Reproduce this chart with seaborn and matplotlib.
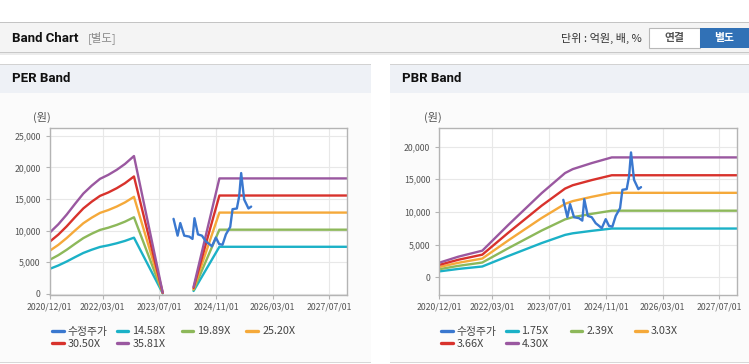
import pandas as pd
import seaborn as sns
import matplotlib.pyplot as plt
import matplotlib.dates as mdates
from matplotlib.lines import Line2D
from matplotlib.patches import Rectangle
from matplotlib.ticker import FuncFormatter

# values
price_dates = ['2023-10-31', '2023-12-05', '2023-12-28', '2024-01-31', '2024-03-14', '2024-04-11',
               '2024-04-28', '2024-05-28', '2024-07-01', '2024-08-04', '2024-09-02', '2024-09-25',
               '2024-10-29', '2024-11-26', '2024-12-25', '2025-01-23', '2025-03-01', '2025-03-21',
               '2025-04-27', '2025-05-17', '2025-06-03', '2025-06-29', '2025-08-05', '2025-08-28']
price_vals = [11860, 9200, 11200, 9200, 9050, 8680,
              11960, 9400, 9200, 8280, 7870, 7520,
              8900, 7870, 7760, 9400, 10580, 13390,
              13500, 15430, 19110, 14920, 13500, 13800]

per_multiples = [14.58, 19.89, 25.20, 30.50, 35.81]
per_dates = ['2020-12-01', '2021-02-13', '2021-04-26', '2021-07-06', '2021-09-16', '2021-11-27',
             '2022-02-06', '2022-04-19', '2022-06-30', '2022-09-09', '2022-11-25', '2023-07-30',
             '2024-04-20', '2024-11-28', '2027-12-01']
per_segment = [0] * 12 + [1] * 3
per_eps = [270, 307, 350, 397, 443, 478, 508, 526, 548, 574, 609, 5,
           30, 510, 510]

pbr_multiples = [1.75, 2.39, 3.03, 3.66, 4.30]
pbr_dates = ['2020-12-01', '2021-05-13', '2021-12-05', '2022-07-16', '2023-04-28', '2023-11-15',
             '2024-01-20', '2024-07-01', '2024-12-20', '2027-12-01']
pbr_bps = [521, 735, 949, 1865, 2995, 3710, 3850, 4065, 4267, 4267]

tick_dates = ['2020/12/01', '2022/03/01', '2023/07/01', '2024/11/01', '2026/03/01', '2027/07/01']

band_colors = ['#1bb1c7', '#8db85a', '#f5a93a', '#d8322c', '#9a58a0']
price_color = '#3a78cf'

W, H = 749, 364


def fx(x):
    return x / W


def fy(y):
    return 1 - y / H


sns.set_style('white')
plt.rcParams['font.family'] = ['Noto Sans CJK KR', 'DejaVu Sans']
title_font = ['Roboto', 'DejaVu Sans']

fig = plt.figure(figsize=(W / 100, H / 100), dpi=100)


def box(x, y, w, h, fc, ec='none', lw=0):
    fig.add_artist(Rectangle((fx(x), fy(y + h)), w / W, h / H, transform=fig.transFigure,
                             facecolor=fc, edgecolor=ec, linewidth=lw, zorder=-1))


# page header
box(0, 22, W, 1, '#c4c4c4')
box(0, 23, W, 29, '#f4f4f4')
box(0, 52, W, 1, '#c8c8c8')
box(0, 53, W, 2, '#ececec')
fig.text(fx(12), fy(38), 'Band Chart', family=title_font, weight='bold', size=9.5, va='center', color='#111111')
fig.text(fx(88), fy(38), '[별도]', size=8.2, va='center', color='#8a8a8a')
fig.text(fx(642), fy(38), '단위 : 억원, 배, %', size=8, va='center', ha='right', color='#333333')
box(648.5, 28, 51.5, 19.5, 'white', '#b8b8b8', 0.8)
box(700, 28, 49, 19.5, '#3171b6')
fig.text(fx(674), fy(38), '연결', size=7.8, weight='bold', va='center', ha='center', color='#555555')
fig.text(fx(724.5), fy(38), '별도', size=7.8, weight='bold', va='center', ha='center', color='white')

# panels
for px, pw, title in [(0, 371, 'PER Band'), (390, 359, 'PBR Band')]:
    box(px, 64, pw, 298, '#fbfbfb')
    box(px, 64, pw, 29, '#eef1f6')
    box(px, 63.5, pw, 1, '#d2d2d2')
    box(px, 361.5, pw, 1, '#d8d8d8')
    fig.text(fx(px + 12), fy(79), title, family=title_font, weight='bold', size=9.5, va='center', color='#111111')

ax1 = fig.add_axes([fx(49.7), fy(295), 297.6 / W, 166.7 / H])
ax2 = fig.add_axes([fx(439.3), fy(295), 298 / W, 166.7 / H])


def band_frame(dates, base, multiples, segment=None):
    rows = []
    for m in multiples:
        for i, (d, b) in enumerate(zip(dates, base)):
            seg = segment[i] if segment is not None else 0
            rows.append((pd.Timestamp(d), b * m, f'{m:.2f}X', seg))
    return pd.DataFrame(rows, columns=['date', 'value', 'band', 'seg'])


per_df = band_frame(per_dates, per_eps, per_multiples, per_segment)
pbr_df = band_frame(pbr_dates, pbr_bps, pbr_multiples)

price_df = pd.DataFrame({'date': pd.to_datetime(price_dates), 'value': price_vals})

for ax, df, multiples, ylim, ytop in [(ax1, per_df, per_multiples, (-200, 26200), 25000),
                                       (ax2, pbr_df, pbr_multiples, (-2700, 22800), 20000)]:
    labels = [f'{m:.2f}X' for m in multiples]
    sns.lineplot(data=df, x='date', y='value', hue='band', hue_order=labels, units='seg',
                 estimator=None, sort=False, palette=band_colors, linewidth=1.7, legend=False, ax=ax)
    sns.lineplot(data=price_df, x='date', y='value', color=price_color, linewidth=1.7, ax=ax)

    ax.set_xlim(mdates.date2num(pd.Timestamp('2020-12-01')), mdates.date2num(pd.Timestamp('2027-12-02')))
    ax.set_ylim(*ylim)
    ax.set_xticks(mdates.date2num(pd.to_datetime(tick_dates)))
    ax.xaxis.set_major_formatter(mdates.DateFormatter('%Y/%m/%d'))
    ax.set_yticks(range(0, ytop + 1, 5000))
    ax.yaxis.set_major_formatter(FuncFormatter(lambda v, p: f'{v:,.0f}'))
    ax.set_xlabel('')
    ax.set_ylabel('')
    ax.set_facecolor('white')
    ax.grid(True, color='#e8e8e8', linewidth=0.8)
    for s in ax.spines.values():
        s.set_color('#b4b4b4')
        s.set_linewidth(1)
    ax.tick_params(bottom=True, left=True, length=3, width=0.8, color='#b4b4b4',
                   labelsize=6.3, labelcolor='#555555', pad=2.5)
    ax.tick_params(axis='y', pad=3.5)

fig.text(fx(33), fy(117), '(원)', size=8, va='center', color='#555555')
fig.text(fx(424), fy(117), '(원)', size=8, va='center', color='#555555')

# legends: four fixed-width columns, two rows
for x0, multiples in [(52, per_multiples), (441, pbr_multiples)]:
    names = ['수정주가'] + [f'{m:.2f}X' for m in multiples]
    colors = [price_color] + band_colors
    for col in range(4):
        idx = [i for i in range(len(names)) if i % 4 == col]
        handles = [Line2D([], [], color=colors[i], linewidth=2.4) for i in idx]
        fig.legend(handles, [names[i] for i in idx], loc='upper left',
                   bbox_to_anchor=(fx(x0 + col * 64.8), fy(326.5)), bbox_transform=fig.transFigure,
                   frameon=False, borderpad=0, borderaxespad=0, handlelength=1.08,
                   handletextpad=0.37, labelspacing=0.25, fontsize=7.8, labelcolor='#444444')

fig.savefig('out.png', dpi=100, facecolor='white')
